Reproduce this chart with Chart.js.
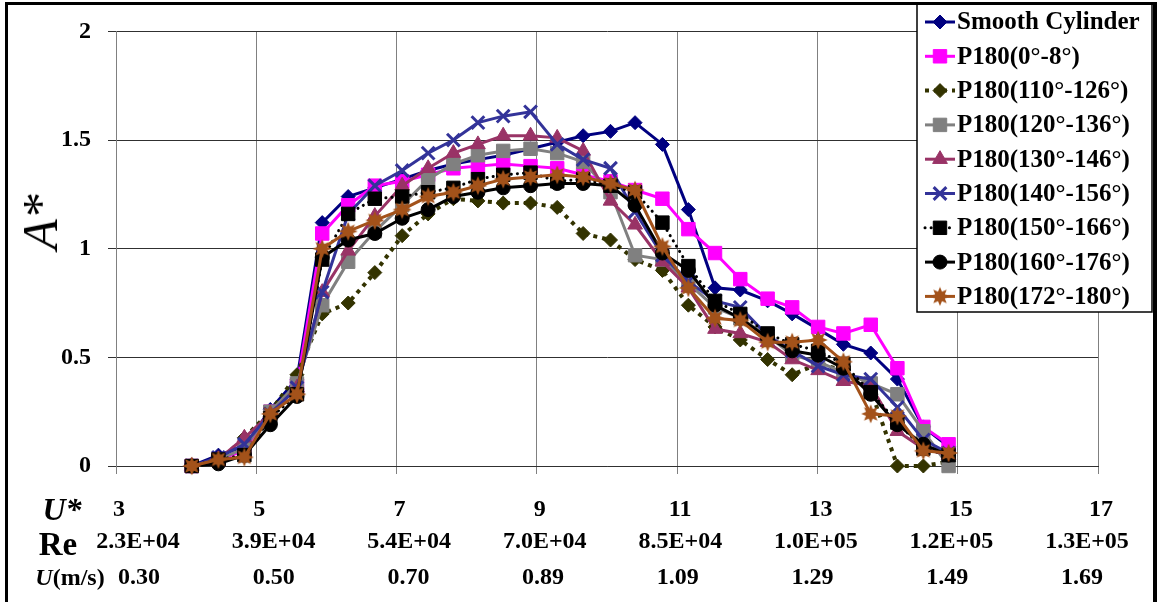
<!DOCTYPE html>
<html>
<head>
<meta charset="utf-8">
<script src="https://cdn.jsdelivr.net/npm/chart.js"></script>
<style>
  html, body { margin:0; padding:0; background:#fff; }
  #wrap { position:relative; width:1157px; height:602px; overflow:hidden; background:#fff; }
  #c { position:absolute; left:0; top:0; }
  .lbl { position:absolute; transform:translate(-50%,-50%); white-space:nowrap; line-height:1; color:#000; font-family:'Liberation Serif', 'Times New Roman', serif; }
  #frame { position:absolute; left:5px; top:2px; width:1145px; height:597px; border-left:3px solid #000; border-top:3px solid #000; border-right:4px solid #000; border-bottom:1px solid #ddd; pointer-events:none; }
</style>
</head>
<body>
<div id="wrap">
  <canvas id="c" width="1157" height="602"></canvas>
  <div class="lbl" style="left:40px; top:222px; font-style:italic; font-size:50px; transform:translate(-50%,-50%) rotate(-90deg);">A*</div>
  <div class="lbl" style="left:62px; top:509px; font-style:italic; font-weight:bold; font-size:32px;">U*</div>
  <div class="lbl" style="left:58px; top:544px; font-weight:bold; font-size:33px;">Re</div>
  <div class="lbl" style="left:70px; top:577px; font-weight:bold; font-size:24px;"><i>U</i>(m/s)</div>
  <div id="frame"></div>
</div>
<script>
// ---- data ----
const uStar = [4.08, 4.46, 4.83, 5.20, 5.58, 5.94, 6.31, 6.69, 7.08, 7.45, 7.81, 8.16, 8.52, 8.91, 9.29, 9.66, 10.05, 10.40, 10.79, 11.16, 11.54, 11.90, 12.29, 12.64, 13.01, 13.37, 13.76, 14.14, 14.51, 14.87];

const smoothCylinder = [0.00, 0.05, 0.09, 0.26, 0.40, 1.12, 1.24, 1.28, 1.32, 1.36, 1.39, 1.41, 1.43, 1.46, 1.49, 1.52, 1.54, 1.58, 1.48, 1.18, 0.82, 0.81, 0.76, 0.70, 0.63, 0.56, 0.52, 0.40, 0.18, 0.09];
const p180_0_8     = [0.00, 0.03, 0.07, 0.25, 0.37, 1.07, 1.20, 1.29, 1.31, 1.34, 1.37, 1.38, 1.39, 1.38, 1.37, 1.34, 1.31, 1.27, 1.23, 1.09, 0.98, 0.86, 0.77, 0.73, 0.64, 0.61, 0.65, 0.45, 0.18, 0.10];
const p180_110_126 = [0.00, 0.02, 0.13, 0.25, 0.42, 0.70, 0.75, 0.89, 1.06, 1.16, 1.23, 1.22, 1.21, 1.21, 1.19, 1.07, 1.04, 0.95, 0.90, 0.74, 0.64, 0.58, 0.49, 0.42, 0.47, 0.44, 0.35, 0.00, 0.00, 0.02];
const p180_120_136 = [0.00, 0.03, 0.08, 0.25, 0.38, 0.74, 0.94, 1.08, 1.20, 1.32, 1.39, 1.43, 1.45, 1.46, 1.44, 1.40, 1.26, 0.97, 0.95, 0.84, 0.73, 0.68, 0.60, 0.51, 0.48, 0.43, 0.38, 0.33, 0.16, 0.00];
const p180_130_146 = [0.00, 0.03, 0.13, 0.24, 0.36, 0.80, 0.99, 1.15, 1.29, 1.37, 1.44, 1.48, 1.52, 1.52, 1.51, 1.45, 1.22, 1.11, 0.94, 0.82, 0.63, 0.61, 0.57, 0.49, 0.44, 0.39, 0.37, 0.16, 0.08, 0.05];
const p180_140_156 = [0.00, 0.04, 0.10, 0.24, 0.36, 0.80, 1.16, 1.29, 1.36, 1.44, 1.50, 1.58, 1.61, 1.63, 1.48, 1.41, 1.37, 1.17, 0.97, 0.85, 0.76, 0.73, 0.60, 0.53, 0.46, 0.42, 0.40, 0.27, 0.12, 0.06];
const p180_150_166 = [0.00, 0.03, 0.05, 0.22, 0.33, 0.95, 1.16, 1.23, 1.24, 1.26, 1.28, 1.32, 1.34, 1.35, 1.31, 1.32, 1.29, 1.26, 1.12, 0.92, 0.76, 0.70, 0.61, 0.56, 0.53, 0.47, 0.34, 0.20, 0.08, 0.05];
const p180_160_176 = [0.00, 0.01, 0.05, 0.19, 0.32, 0.96, 1.04, 1.07, 1.14, 1.18, 1.24, 1.26, 1.28, 1.29, 1.30, 1.30, 1.29, 1.20, 0.98, 0.90, 0.74, 0.68, 0.59, 0.53, 0.51, 0.45, 0.33, 0.19, 0.10, 0.05];
const p180_172_180 = [0.00, 0.03, 0.04, 0.24, 0.33, 1.00, 1.08, 1.13, 1.18, 1.24, 1.26, 1.29, 1.32, 1.33, 1.34, 1.33, 1.30, 1.27, 1.01, 0.82, 0.68, 0.67, 0.57, 0.57, 0.58, 0.48, 0.24, 0.23, 0.07, 0.06];

const seriesLabels = ['Smooth Cylinder', 'P180(0°-8°)', 'P180(110°-126°)', 'P180(120°-136°)', 'P180(130°-146°)', 'P180(140°-156°)', 'P180(150°-166°)', 'P180(160°-176°)', 'P180(172°-180°)'];
const seriesValues = [smoothCylinder, p180_0_8, p180_110_126, p180_120_136, p180_130_146, p180_140_156, p180_150_166, p180_160_176, p180_172_180];

const uStarTicks = [3, 5, 7, 9, 11, 13, 15, 17];
const reTickLabels = ['2.3E+04', '3.9E+04', '5.4E+04', '7.0E+04', '8.5E+04', '1.0E+05', '1.2E+05', '1.3E+05'];
const uTickLabels = ['0.30', '0.50', '0.70', '0.89', '1.09', '1.29', '1.49', '1.69'];
const yTicks = [0, 0.5, 1, 1.5, 2];
const yTickLabels = ['0', '0.5', '1', '1.5', '2'];

// ---- styles ----
function makeStar(color) {
  const c = document.createElement('canvas');
  c.width = 20; c.height = 20;
  const g = c.getContext('2d');
  g.fillStyle = color;
  g.beginPath();
  for (let k = 0; k < 16; k++) {
    const r = (k % 2) ? 5.2 : 9.5;
    const a = k * Math.PI / 8 - Math.PI / 2;
    g.lineTo(10 + r * Math.cos(a), 10 + r * Math.sin(a));
  }
  g.closePath();
  g.fill();
  return c;
}
const orange = '#A3521A';
const styles = [
  { color:'#000080', pointStyle:'rectRot', radius:7, width:3 },
  { color:'#FF00FF', pointStyle:'rect', radius:9.5, width:3 },
  { color:'#333300', pointStyle:'rectRot', radius:7, width:4, dash:[4,5] },
  { color:'#808080', pointStyle:'rect', radius:9.5, width:3 },
  { color:'#993366', pointStyle:'triangle', radius:8.5, width:3 },
  { color:'#333399', pointStyle:'crossRot', radius:9, width:3, pbw:3 },
  { color:'#000000', pointStyle:'rect', radius:9.5, width:3, dash:[0.1,6], cap:'round' },
  { color:'#000000', pointStyle:'circle', radius:7, width:3 },
  { color:orange, pointStyle:makeStar(orange), radius:9, width:3 }
];

const datasets = seriesValues.map((vals, i) => {
  const s = styles[i];
  return {
    label: seriesLabels[i],
    data: uStar.map((x, j) => ({ x: x, y: vals[j] })),
    borderColor: s.color,
    backgroundColor: s.color,
    pointBackgroundColor: s.color,
    pointBorderColor: s.color,
    borderWidth: s.width,
    borderDash: s.dash || [],
    borderCapStyle: s.cap || 'butt',
    pointStyle: s.pointStyle,
    pointRadius: s.radius,
    pointBorderWidth: s.pbw || 1,
    tension: 0,
    clip: false,
    order: seriesValues.length - 1 - i
  };
});

// ---- legend drawn in a box over the plot ----
function drawMarker(ctx, ds, x, y) {
  const st = ds.pointStyle, r = ds.pointRadius;
  ctx.save();
  ctx.fillStyle = ds.pointBackgroundColor;
  ctx.strokeStyle = ds.pointBorderColor;
  ctx.lineWidth = ds.pointBorderWidth;
  ctx.setLineDash([]);
  if (typeof st !== 'string') {
    ctx.drawImage(st, x - st.width / 2, y - st.height / 2);
    ctx.restore();
    return;
  }
  ctx.beginPath();
  if (st === 'rectRot') {
    ctx.moveTo(x - r, y); ctx.lineTo(x, y - r); ctx.lineTo(x + r, y); ctx.lineTo(x, y + r); ctx.closePath();
    ctx.fill(); ctx.stroke();
  } else if (st === 'rect') {
    const h = r * Math.SQRT1_2;
    ctx.rect(x - h, y - h, 2 * h, 2 * h); ctx.fill(); ctx.stroke();
  } else if (st === 'triangle') {
    let a = 0;
    ctx.moveTo(x + Math.sin(a) * r, y - Math.cos(a) * r);
    a += 2 * Math.PI / 3; ctx.lineTo(x + Math.sin(a) * r, y - Math.cos(a) * r);
    a += 2 * Math.PI / 3; ctx.lineTo(x + Math.sin(a) * r, y - Math.cos(a) * r);
    ctx.closePath(); ctx.fill(); ctx.stroke();
  } else if (st === 'crossRot') {
    const h = r * Math.SQRT1_2;
    ctx.moveTo(x - h, y - h); ctx.lineTo(x + h, y + h);
    ctx.moveTo(x + h, y - h); ctx.lineTo(x - h, y + h);
    ctx.stroke();
  } else if (st === 'circle') {
    ctx.arc(x, y, r, 0, Math.PI * 2); ctx.fill(); ctx.stroke();
  }
  ctx.restore();
}

const boxLegend = {
  id: 'boxLegend',
  afterDraw(chart) {
    const ctx = chart.ctx;
    const L = 917, T = 3, R = 1152, B = 312;
    ctx.save();
    ctx.fillStyle = '#fff';
    ctx.fillRect(L, T, R - L, B - T);
    ctx.strokeStyle = '#000';
    ctx.lineWidth = 1.5;
    ctx.strokeRect(L, T, R - L, B - T);
    chart.data.datasets.forEach((ds, i) => {
      const y = 22 + i * 34.3;
      ctx.strokeStyle = ds.borderColor;
      ctx.lineWidth = ds.borderWidth;
      ctx.setLineDash(ds.borderDash || []);
      ctx.lineCap = ds.borderCapStyle || 'butt';
      ctx.beginPath();
      ctx.moveTo(925, y); ctx.lineTo(955, y);
      ctx.stroke();
      ctx.setLineDash([]);
      ctx.lineCap = 'butt';
      drawMarker(ctx, ds, 940, y);
      ctx.fillStyle = '#000';
      ctx.font = 'bold 25px "Liberation Serif"';
      ctx.textBaseline = 'middle';
      ctx.textAlign = 'left';
      ctx.fillText(ds.label, 957, y + 1);
    });
    ctx.restore();
  }
};

Chart.defaults.font.family = '"Liberation Serif", "Times New Roman", serif';
Chart.defaults.color = '#000';

const tickFont = { size: 24, weight: 'bold', lineHeight: 1.2 };
const setTicks = s => { s.ticks = uStarTicks.map(v => ({ value: v })); };

new Chart(document.getElementById('c'), {
  type: 'line',
  data: { datasets: datasets },
  plugins: [boxLegend],
  options: {
    responsive: false,
    animation: false,
    devicePixelRatio: 1,
    layout: { padding: { left: 0, top: 22, right: 59, bottom: 0 } },
    plugins: { legend: { display: false }, tooltip: { enabled: false } },
    scales: {
      x: {
        type: 'linear', position: 'bottom', weight: 0,
        min: 3, max: 17,
        afterBuildTicks: setTicks,
        afterFit: s => { s.height = 51; },
        grid: { display: true, color: '#808080', lineWidth: 1, tickLength: 8, drawTicks: true },
        border: { display: true, color: '#303030', width: 1 },
        ticks: { autoSkip: false, maxRotation: 0, padding: 21, labelOffset: 3, font: tickFont,
                 callback: (v, i) => String(uStarTicks[i]) }
      },
      xRe: {
        type: 'linear', position: 'bottom', weight: 1,
        min: 2.675, max: 17.162,
        afterBuildTicks: setTicks,
        afterFit: s => { s.height = 40; },
        grid: { display: false, drawTicks: false },
        border: { display: false },
        ticks: { autoSkip: false, maxRotation: 0, padding: 10, font: tickFont,
                 callback: (v, i) => reTickLabels[i] }
      },
      xU: {
        type: 'linear', position: 'bottom', weight: 2,
        min: 2.659, max: 17.238,
        afterBuildTicks: setTicks,
        afterFit: s => { s.height = 45; },
        grid: { display: false, drawTicks: false },
        border: { display: false },
        ticks: { autoSkip: false, maxRotation: 0, padding: 6, font: tickFont,
                 callback: (v, i) => uTickLabels[i] }
      },
      y: {
        type: 'linear', position: 'left',
        min: 0, max: 2,
        afterBuildTicks: s => { s.ticks = yTicks.map(v => ({ value: v })); },
        afterFit: s => { s.width = 116; },
        grid: { color: '#303030', lineWidth: 1, tickLength: 8 },
        border: { display: true, color: '#808080', width: 1 },
        ticks: { padding: 17, font: tickFont, callback: (v, i) => yTickLabels[i] }
      }
    }
  }
});
</script>
</body>
</html>
